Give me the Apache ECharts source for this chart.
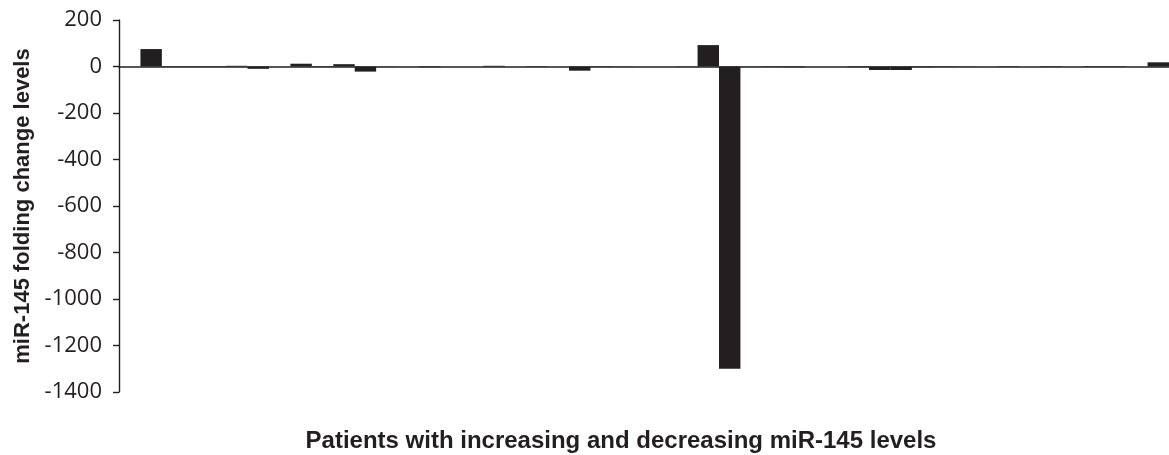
<!DOCTYPE html>
<html>
<head>
<meta charset="utf-8">
<script src="https://cdn.jsdelivr.net/npm/echarts@6/dist/echarts.min.js"></script>
<style>
html,body{margin:0;padding:0;background:#fff;}
#chart{width:1169px;height:455px;}
</style>
</head>
<body>
<div id="chart"></div>
<script>
var patients = [];
for (var i = 1; i <= 49; i++) patients.push('P' + i);
var foldChange = [0, 75, -2, 2, -2, 3, -10, 0, 12, -2,
                  10, -22, 1, 0, -3, 0, 0, 3, 0, -2,
                  0, -18, 2, -1, 0, 0, 1, 92, -1300, 1,
                  -2, -3, 0, 0, -3, -15, -15, -3, -2, 1,
                  0, -2, 0, -2, 0, -2, -2, 0, 18];
var yTicks = {min: -1400, max: 200, interval: 200};
var yTitle = 'miR-145 folding change levels';
var xTitle = 'Patients with increasing and decreasing miR-145 levels';

var chart = echarts.init(document.getElementById('chart'), null, {renderer: 'canvas'});
chart.setOption({
  animation: false,
  backgroundColor: '#ffffff',
  title: {
    text: xTitle,
    left: 616,
    top: 424,
    textAlign: 'center',
    textStyle: {fontFamily: 'Liberation Sans', fontWeight: 'bold', fontSize: 24, color: '#231f20'}
  },
  grid: {left: 119, top: 20, bottom: 63, right: -7, containLabel: false},
  xAxis: {
    type: 'category',
    data: patients,
    axisLine: {show: true, onZero: true, lineStyle: {color: '#231f20', width: 1.6}},
    axisTick: {show: false},
    axisLabel: {show: false},
    splitLine: {show: false}
  },
  yAxis: {
    type: 'value',
    min: yTicks.min,
    max: yTicks.max,
    interval: yTicks.interval,
    name: yTitle,
    nameLocation: 'middle',
    nameGap: 84,
    nameTextStyle: {fontFamily: 'Liberation Sans', fontWeight: 'bold', fontSize: 22, color: '#231f20'},
    axisLine: {show: true, lineStyle: {color: '#231f20', width: 1.4}},
    axisTick: {show: true, length: 6, lineStyle: {color: '#231f20', width: 1.4}},
    axisLabel: {fontFamily: 'Open Sans', fontSize: 22, color: '#231f20', margin: 17,
      formatter: function (v) { return String(v); }},
    splitLine: {show: false}
  },
  series: [{
    type: 'bar',
    data: foldChange,
    barCategoryGap: '0%',
    itemStyle: {color: '#231f20'}
  }]
});
</script>
</body>
</html>
